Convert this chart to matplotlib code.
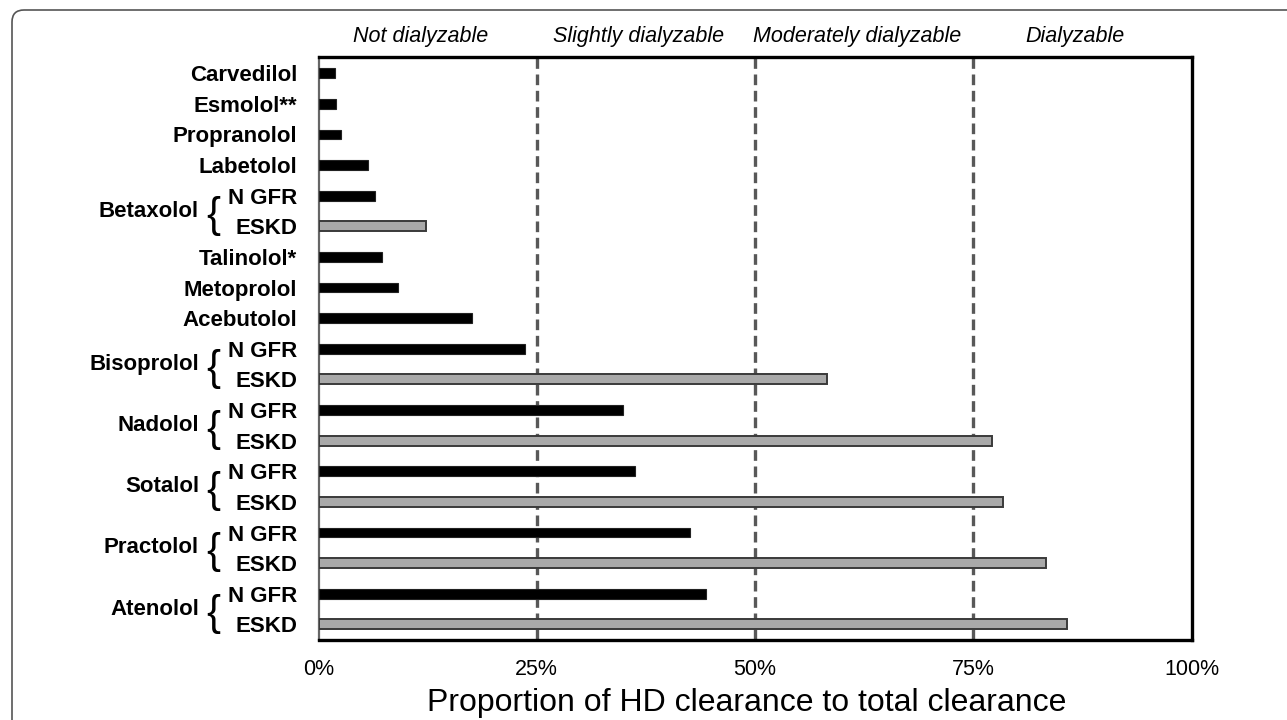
import numpy as np
import matplotlib
matplotlib.use('Agg')
import matplotlib.pyplot as plt
from matplotlib.patches import FancyBboxPatch
from matplotlib.transforms import IdentityTransform
from matplotlib.ticker import PercentFormatter

plt.rcParams['font.family'] = ['Liberation Sans', 'DejaVu Sans']

# data (percent of HD clearance to total clearance)
drugs = ['Carvedilol', 'Esmolol**', 'Propranolol', 'Labetolol', 'Betaxolol',
         'Talinolol*', 'Metoprolol', 'Acebutolol', 'Bisoprolol', 'Nadolol',
         'Sotalol', 'Practolol', 'Atenolol']
ngfr = [1.9, 1.95, 2.6, 5.65, 6.5, 7.3, 9.1, 17.6, 23.7, 34.9, 36.3, 42.5, 44.4]
eskd = [None, None, None, None, 12.3, None, None, None, 58.3, 77.2, 78.4, 83.3, 85.7]
bands = ['Not dialyzable', 'Slightly dialyzable', 'Moderately dialyzable', 'Dialyzable']
band_edges = [0, 25, 50, 75, 100]

# build rows
rows_val, rows_col, rows_lab, groups = [], [], [], []
for d, n, e in zip(drugs, ngfr, eskd):
    if e is None:
        rows_val.append(n); rows_col.append('k'); rows_lab.append(d)
    else:
        groups.append((d, len(rows_val) + 0.5))
        rows_val.append(n); rows_col.append('k'); rows_lab.append('N GFR')
        rows_val.append(e); rows_col.append('grey'); rows_lab.append('ESKD')
ypos = np.arange(len(rows_val))

fig = plt.figure(figsize=(12.87, 7.2), dpi=100)
ax = fig.add_axes([0.2475, 0.1111, 0.6783, 0.8097])

for y, v, c in zip(ypos, rows_val, rows_col):
    if c == 'k':
        ax.barh(y, v, height=0.32, color='black', edgecolor='#222222', lw=0.8, zorder=3)
    else:
        ax.barh(y, v, height=0.33, color='#a9a9a9', edgecolor='#3a3a3a', lw=1.4, zorder=3)

for x in band_edges[1:-1]:
    ax.axvline(x, color='#585858', lw=2.4, dashes=(3.2, 1.7), zorder=2)

ax.set_xlim(0, 100)
ax.set_ylim(18.51, -0.53)
ax.set_xticks(band_edges)
ax.xaxis.set_major_formatter(PercentFormatter(xmax=100, decimals=0))
ax.set_yticks(ypos)
ax.set_yticklabels(rows_lab, fontsize=16, fontweight='bold')
ax.tick_params(axis='y', length=0, pad=15.5)
ax.tick_params(axis='x', length=0, pad=13.5, labelsize=15.5)

for s in ['top', 'right', 'bottom']:
    ax.spines[s].set_linewidth(2.4)
    ax.spines[s].set_color('black')
ax.spines['left'].set_linewidth(1.6)
ax.spines['left'].set_color('#666666')

# group names with braces
for name, ym in groups:
    ax.annotate(name, xy=(0, ym), xycoords=ax.get_yaxis_transform(),
                xytext=(-86, 0), textcoords='offset points',
                ha='right', va='center', fontsize=16, fontweight='bold')
    ax.annotate('{', xy=(0, ym), xycoords=ax.get_yaxis_transform(),
                xytext=(-76, 0), textcoords='offset points',
                ha='center', va='center_baseline', fontsize=30)

# band titles on top
for i, b in enumerate(bands):
    xc = (band_edges[i] + band_edges[i + 1]) / 2 - 0.8
    ax.text(xc, 1.026, b, transform=ax.get_xaxis_transform(), ha='center',
            va='baseline', fontsize=15.5, fontstyle='italic')

fig.text(0.58, 0.0125, 'Proportion of HD clearance to total clearance',
         ha='center', va='baseline', fontsize=23)

# rounded outer frame
frame = FancyBboxPatch((12, -60), 1400, 770, boxstyle='round,pad=0,rounding_size=12',
                       transform=IdentityTransform(), fill=False,
                       edgecolor='#555555', lw=1.2)
fig.add_artist(frame)

plt.savefig('out.png', dpi=100)
